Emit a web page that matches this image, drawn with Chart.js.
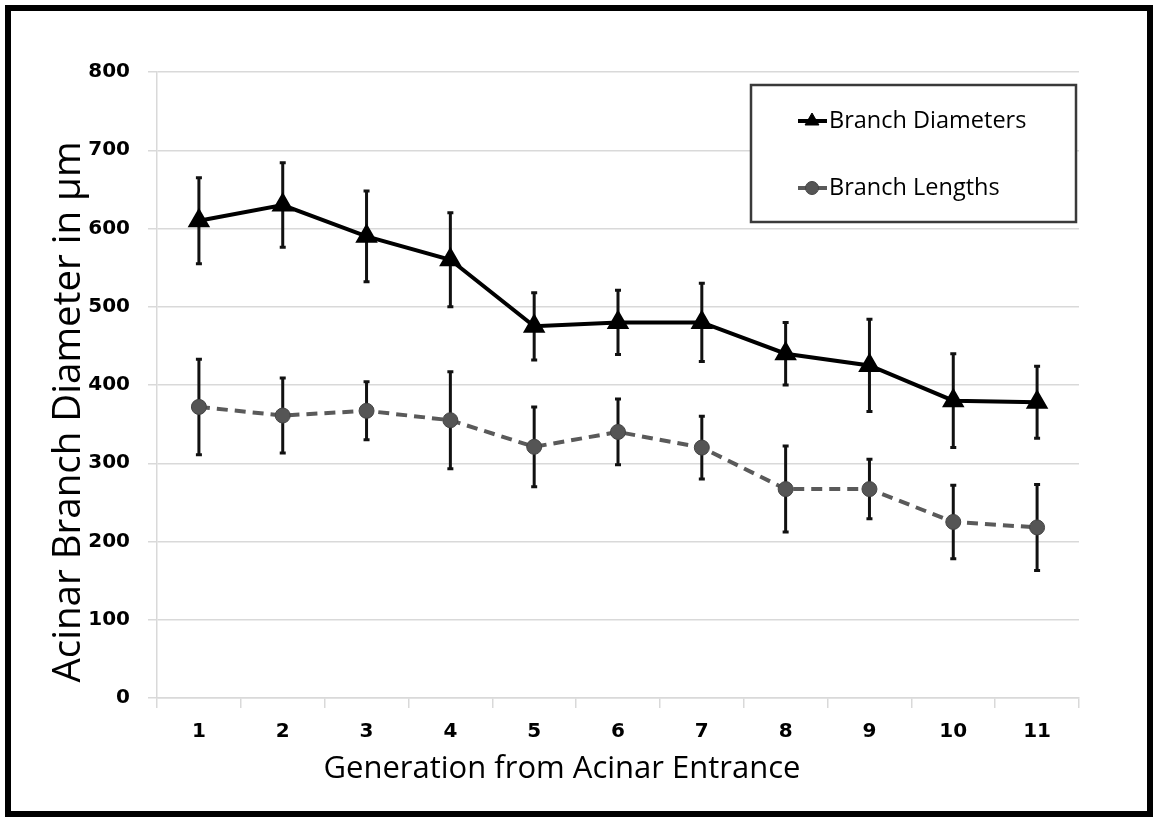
<!DOCTYPE html>
<html>
<head>
<meta charset="utf-8">
<script src="https://cdn.jsdelivr.net/npm/chart.js@4.4.6/dist/chart.umd.min.js"></script>
<style>
  html, body { margin: 0; padding: 0; background: #fff; }
  #wrap { position: relative; width: 1155px; height: 818px; }
  #frame { position: absolute; left: 5px; top: 5px; width: 1148px; height: 812px; box-sizing: border-box; border: 6px solid #000; pointer-events: none; }
  #chart { position: absolute; left: 0; top: 0; }
</style>
</head>
<body>
<div id="wrap">
  <canvas id="chart" width="1155" height="818"></canvas>
  <div id="frame"></div>
</div>
<script>
const generations = ['1', '2', '3', '4', '5', '6', '7', '8', '9', '10', '11'];
const diameters = [610, 630, 590, 560, 475, 480, 480, 440, 425, 380, 378];
const diameterErr = [55, 54, 58, 60, 43, 41, 50, 40, 59, 60, 46];
const lengths = [372, 361, 367, 355, 321, 340, 320, 267, 267, 225, 218];
const lengthErr = [61, 48, 37, 62, 51, 42, 40, 55, 38, 47, 55];
const yTicks = [0, 100, 200, 300, 400, 500, 600, 700, 800];

const xTitle = 'Generation from Acinar Entrance';
const yTitle = 'Acinar Branch Diameter in µm';
const textFont = '"Open Sans", sans-serif';
const tickFont = { family: '"DejaVu Sans", sans-serif', size: 20, weight: 'bold' };

// vertical error bars, drawn under the markers
const errorBars = {
  id: 'errorBars',
  beforeDatasetsDraw(chart) {
    const { ctx, scales: { x, y } } = chart;
    ctx.save();
    ctx.strokeStyle = '#111';
    ctx.lineWidth = 3;
    chart.data.datasets.forEach(ds => {
      ds.data.forEach((v, i) => {
        const px = x.getPixelForValue(i);
        const top = y.getPixelForValue(v + ds.errors[i]);
        const bot = y.getPixelForValue(v - ds.errors[i]);
        ctx.beginPath();
        ctx.moveTo(px, top); ctx.lineTo(px, bot);
        ctx.moveTo(px - 3, top); ctx.lineTo(px + 3, top);
        ctx.moveTo(px - 3, bot); ctx.lineTo(px + 3, bot);
        ctx.stroke();
      });
    });
    ctx.restore();
  }
};

// axis titles placed like the original (x title is not centred on the plot)
const axisTitles = {
  id: 'axisTitles',
  afterDraw(chart) {
    const { ctx } = chart;
    ctx.save();
    ctx.fillStyle = '#000';
    ctx.textAlign = 'center';
    ctx.textBaseline = 'alphabetic';
    ctx.font = '31px ' + textFont;
    ctx.fillText(xTitle, 562, 778);
    ctx.translate(80, 412);
    ctx.rotate(-Math.PI / 2);
    ctx.font = '38.5px ' + textFont;
    ctx.fillText(yTitle, 0, 0);
    ctx.restore();
  }
};

// boxed legend inside the plot, top right
const boxLegend = {
  id: 'boxLegend',
  afterDraw(chart) {
    const { ctx } = chart;
    ctx.save();
    ctx.fillStyle = '#fff';
    ctx.fillRect(751, 85, 325, 137);
    ctx.strokeStyle = '#3a3a3a';
    ctx.lineWidth = 2.5;
    ctx.strokeRect(751, 85, 325, 137);
    const rows = [121, 188];
    chart.data.datasets.forEach((ds, i) => {
      const cy = rows[i];
      ctx.strokeStyle = ds.borderColor;
      ctx.lineWidth = 4;
      ctx.setLineDash([]);
      ctx.beginPath();
      ctx.moveTo(798, cy); ctx.lineTo(827, cy);
      ctx.stroke();
      ctx.fillStyle = ds.pointBackgroundColor;
      ctx.strokeStyle = ds.pointBorderColor;
      ctx.lineWidth = 1;
      Chart.helpers.drawPoint(ctx, {
        pointStyle: ds.pointStyle, radius: ds.pointRadius - 1, borderWidth: 1
      }, 812, cy);
      ctx.fillStyle = '#000';
      ctx.font = '23.5px ' + textFont;
      ctx.textAlign = 'left';
      ctx.textBaseline = 'middle';
      ctx.fillText(ds.label, 829, cy);
    });
    ctx.restore();
  }
};

new Chart(document.getElementById('chart'), {
  type: 'line',
  data: {
    labels: generations,
    datasets: [
      {
        label: 'Branch Diameters',
        data: diameters,
        errors: diameterErr,
        borderColor: '#000',
        borderWidth: 4,
        pointStyle: 'triangle',
        pointRadius: 9,
        pointBackgroundColor: '#000',
        pointBorderColor: '#000',
        tension: 0
      },
      {
        label: 'Branch Lengths',
        data: lengths,
        errors: lengthErr,
        borderColor: '#5a5a5a',
        borderWidth: 4,
        borderDash: [11, 7],
        pointStyle: 'circle',
        pointRadius: 7.5,
        pointBackgroundColor: '#555',
        pointBorderColor: '#444',
        pointBorderWidth: 1,
        tension: 0
      }
    ]
  },
  options: {
    responsive: false,
    animation: false,
    layout: { padding: { top: 72, right: 76, left: 0, bottom: 0 } },
    plugins: {
      legend: { display: false },
      tooltip: { enabled: false }
    },
    scales: {
      x: {
        offset: true,
        grid: { offset: true, drawOnChartArea: false, drawTicks: true, tickLength: 10, color: '#d9d9d9', lineWidth: 1.5 },
        border: { color: '#d9d9d9', width: 1.5 },
        ticks: { color: '#000', font: tickFont, padding: 12, maxRotation: 0 },
        afterFit: scale => { scale.height = 120; }
      },
      y: {
        min: 0,
        max: 800,
        afterBuildTicks: scale => { scale.ticks = yTicks.map(v => ({ value: v })); },
        grid: { color: '#d9d9d9', lineWidth: 1.5, tickLength: 9 },
        border: { color: '#d9d9d9', width: 1.5 },
        ticks: { color: '#000', font: tickFont, padding: 18 },
        afterFit: scale => { scale.width = 157; }
      }
    }
  },
  plugins: [errorBars, axisTitles, boxLegend]
});
</script>
</body>
</html>
